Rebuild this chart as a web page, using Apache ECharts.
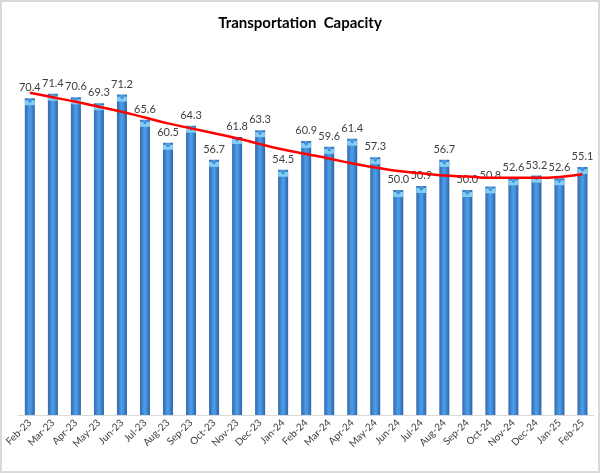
<!DOCTYPE html>
<html>
<head>
<meta charset="utf-8">
<script src="https://cdn.jsdelivr.net/npm/echarts@6/dist/echarts.min.js"></script>
<style>
html,body{margin:0;padding:0;background:#fff;}
#c{width:600px;height:473px;box-sizing:border-box;border:2px solid #d9d9d9;}
</style>
</head>
<body>
<div id="c"></div>
<script>
const categories = ["Feb-23","Mar-23","Apr-23","May-23","Jun-23","Jul-23","Aug-23","Sep-23","Oct-23","Nov-23","Dec-23","Jan-24","Feb-24","Mar-24","Apr-24","May-24","Jun-24","Jul-24","Aug-24","Sep-24","Oct-24","Nov-24","Dec-24","Jan-25","Feb-25"];
const capacity = [70.4,71.4,70.6,69.3,71.2,65.6,60.5,64.3,56.7,61.8,63.3,54.5,60.9,59.6,61.4,57.3,50.0,50.9,56.7,50.0,50.8,52.6,53.2,52.6,55.1];
const trend = [71.6,70.6,69.6,68.5,67.4,66.1,64.8,63.7,62.6,61.5,60.2,59.0,58.0,57.0,55.9,55.0,54.2,53.7,53.2,53.0,52.7,52.7,52.7,52.9,53.5];
const titleText = "Transportation  Capacity";

const chart = echarts.init(document.getElementById('c'));
chart.setOption({
  animation: false,
  backgroundColor: '#fff',
  title: {
    text: titleText, left: 'center', top: 9,
    textStyle: {fontFamily: 'Lato', fontWeight: 'bold', fontSize: 15, color: '#000'}
  },
  grid: {left: 15, right: 4, top: 53, bottom: 56, containLabel: false},
  xAxis: {
    type: 'category', data: categories,
    axisLine: {lineStyle: {color: '#d9d9d9'}},
    axisTick: {show: false},
    axisLabel: {rotate: 45, fontSize: 10, color: '#404040', fontFamily: 'Lato', margin: 6, interval: 0}
  },
  yAxis: {
    type: 'value', min: 0, max: 80,
    show: false, splitLine: {show: false}
  },
  series: [
    {
      type: 'bar', data: capacity, barWidth: 10, z: 2,
      itemStyle: {
        color: new echarts.graphic.LinearGradient(0, 0, 1, 0, [
          {offset: 0, color: '#2f69ad'},
          {offset: 0.45, color: '#4d9ce6'},
          {offset: 0.6, color: '#4896e2'},
          {offset: 1, color: '#2c63a6'}
        ])
      },
      label: {show: true, position: 'top', distance: 5, fontSize: 11, color: '#404040', fontFamily: 'Lato',
        formatter: p => p.value.toFixed(1)}
    },
    {
      type: 'pictorialBar', data: capacity, symbol: 'rect', symbolSize: [10, 5],
      symbolPosition: 'end', symbolOffset: [0, 2], z: 3,
      barGap: '-100%',
      itemStyle: {color: '#86cdf3'}
    },
    {
      type: 'pictorialBar', data: capacity, symbol: 'triangle', symbolRotate: 180, symbolSize: [5, 3],
      symbolPosition: 'end', symbolOffset: [0, 2], z: 4,
      barGap: '-100%',
      itemStyle: {color: '#3d8fd8'}
    },
    {
      type: 'line', data: trend, smooth: true, symbol: 'none', z: 5,
      lineStyle: {color: '#ff0000', width: 2.5}
    }
  ]
});
</script>
</body>
</html>
